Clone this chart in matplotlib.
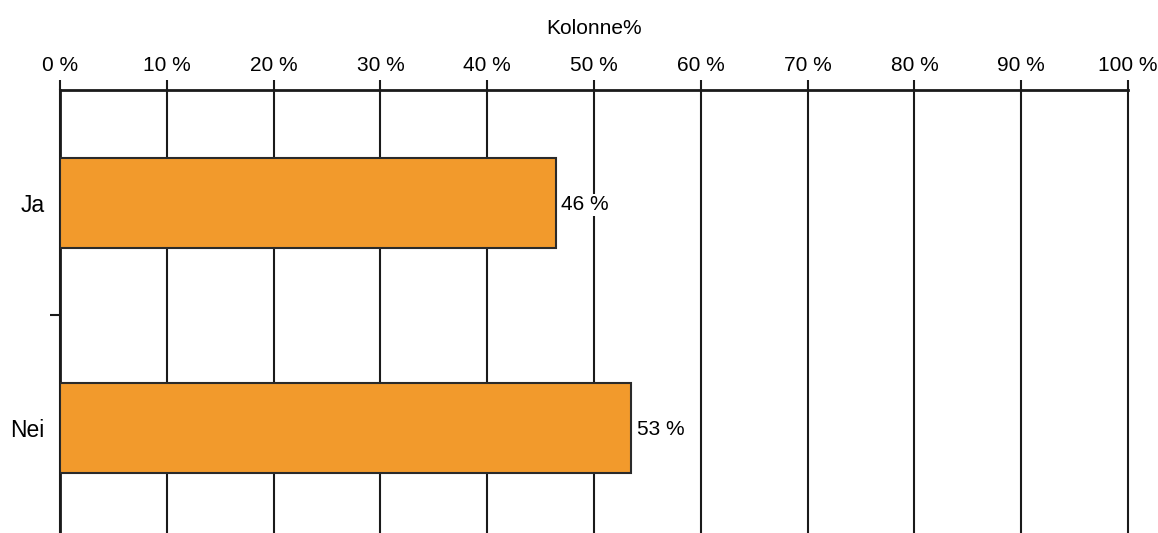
import matplotlib.pyplot as plt
import numpy as np

plt.rcParams['font.family'] = ['Liberation Sans', 'DejaVu Sans']

categories = ['Ja', 'Nei']
values = [46.4, 53.5]
value_labels = ['46 %', '53 %']
xticks = list(range(0, 101, 10))
xtick_labels = ['{} %'.format(t) for t in xticks]

W, H = 1158, 533
fig = plt.figure(figsize=(W / 100, H / 100), dpi=100)
ax = fig.add_axes([60 / W, 1 - 540.5 / H, (1128 - 60) / W, (540.5 - 90) / H])

y = np.arange(len(categories))
ax.barh(y, values, height=0.40, color='#F29A2C', edgecolor='#2a2a2a',
        linewidth=1.5, zorder=3)

for yi, v, lab in zip(y, values, value_labels):
    ax.annotate(lab, (v, yi), xytext=(4, 0), textcoords='offset points',
                ha='left', va='center_baseline', fontsize=15, zorder=4,
                bbox=dict(facecolor='white', edgecolor='none', pad=1))

ax.set_xlim(0, 100)
ax.set_ylim(1.5, -0.5)

ax.xaxis.tick_top()
ax.xaxis.set_label_position('top')
ax.set_xticks(xticks)
ax.set_xticklabels(xtick_labels, fontsize=15)
ax.set_xlabel('Kolonne%', fontsize=15, labelpad=16)
ax.tick_params(axis='x', length=7, width=1.5, pad=4, color='#1a1a1a')
ax.grid(axis='x', color='#1a1a1a', linewidth=1.5, zorder=1)
for gl in ax.get_xgridlines():
    gl.set_clip_on(False)

ax.set_yticks(y)
ax.set_yticklabels(categories, fontsize=16.5)
ax.set_yticks([0.5], minor=True)
ax.tick_params(axis='y', which='major', length=0, pad=11)
ax.tick_params(axis='y', which='minor', length=7, width=1.5, color='#1a1a1a')

for side in ['right', 'bottom']:
    ax.spines[side].set_visible(False)
for side in ['top', 'left']:
    ax.spines[side].set_linewidth(2)
    ax.spines[side].set_color('#1a1a1a')

fig.savefig('out.png', dpi=100)
